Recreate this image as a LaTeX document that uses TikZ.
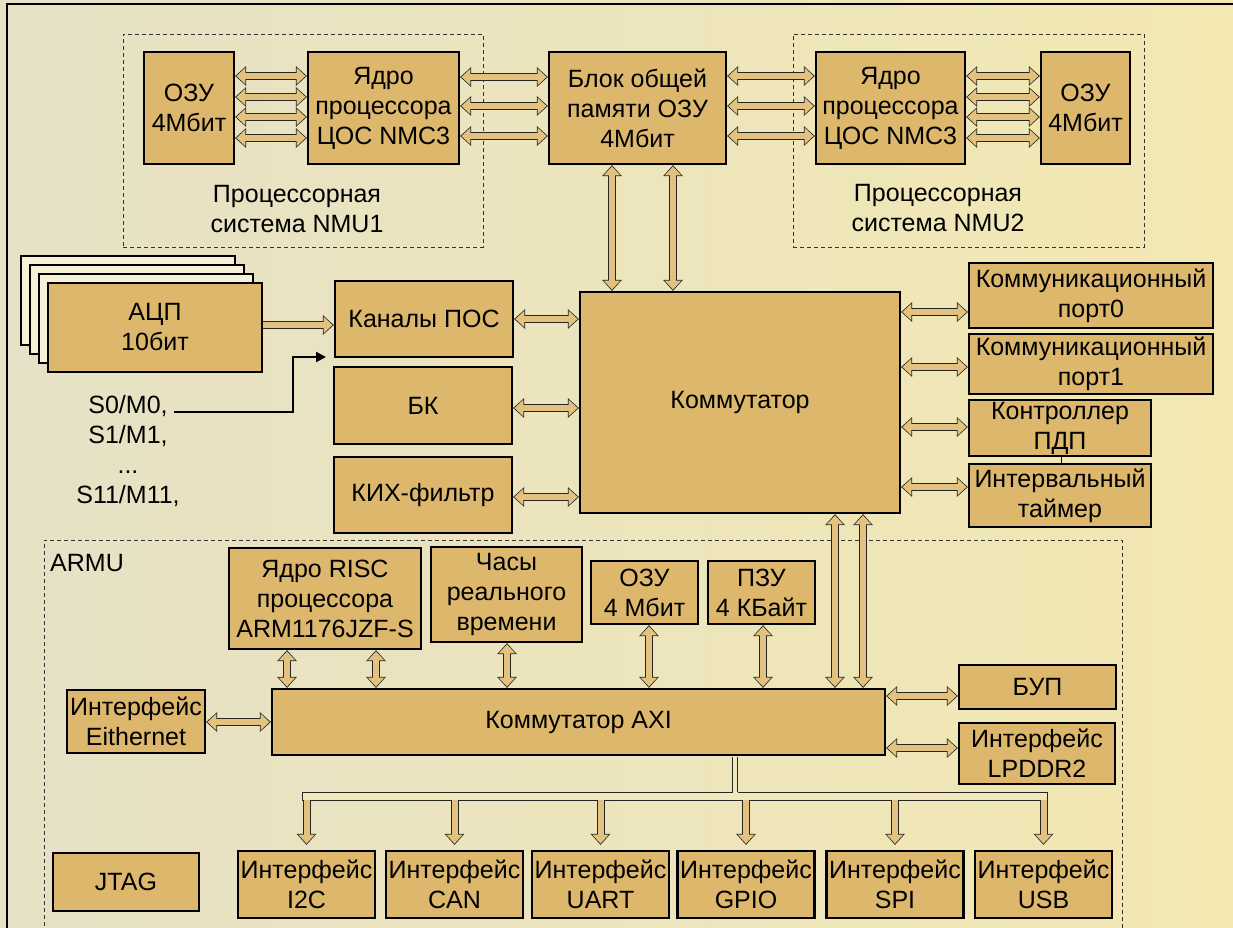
\documentclass[tikz,border=0pt]{standalone}
\usepackage{fontspec}
\setmainfont{Liberation Sans}
\usetikzlibrary{arrows.meta,calc}
\definecolor{bgL}{HTML}{E6E1C6}
\definecolor{bgR}{HTML}{F3E8B2}
\definecolor{boxtan}{HTML}{DDB86C}
\definecolor{arrtan}{HTML}{E2C27E}
\definecolor{backbox}{HTML}{F5F0D6}
\definecolor{busbg}{HTML}{F1E8BC}
\newcommand\mainfs{\fontsize{25}{30}\selectfont}
% double-headed block arrow
\newcommand\dbl[2]{%
  \draw[bouter,{Triangle[length=11pt,width=19pt]}-{Triangle[length=11pt,width=19pt]}] #1 -- #2;
  \draw[binner,shorten <=1.3pt,shorten >=1.3pt,{Triangle[length=9pt,width=16pt]}-{Triangle[length=9pt,width=16pt]}] #1 -- #2;}
% single-headed block arrow: #1 outer shorten, #2 inner shorten, #3 start, #4 end
\newcommand\sgl[4]{%
  \draw[bouter,shorten >=#1,-{Triangle[length=11pt,width=19pt]}] #3 -- #4;
  \draw[binner,shorten >=#2,-{Triangle[length=9pt,width=16pt]}] #3 -- #4;}
\begin{document}
\begin{tikzpicture}[x=1pt,y=-1pt,
  box/.style={draw=black,line width=2.2pt,fill=boxtan,inner sep=1pt,align=center,font=\mainfs},
  backrect/.style={draw=black,line width=2.2pt,fill=backbox},
  dbox/.style={draw=black!80,line width=0.9pt,dash pattern=on 4pt off 3pt},
  lbl/.style={inner sep=0pt,align=center,font=\mainfs},
  bouter/.style={draw=black!85,line width=8pt},
  binner/.style={draw=arrtan,line width=6pt},
  sigline/.style={draw=black,line width=2pt,-{Triangle[length=10pt,width=10pt]}},
  busline/.style={draw=black!85,line width=1pt,fill=busbg}]
\useasboundingbox (0,0) rectangle (1233,927);
\shade[left color=bgL,right color=bgR] (0,0) rectangle (1233,927);
\draw[line width=2pt] (7,940) -- (7,4) -- (1240,4);

% ---------- processor systems ----------
\node[dbox,minimum width=360pt,minimum height=213pt] (nmu1) at (303,140.5) {};
\node[dbox,minimum width=351pt,minimum height=213pt] (nmu2) at (968.5,140.5) {};
\node[box,minimum width=90pt,minimum height=112pt] (ozu1) at (189,108) {ОЗУ\\4Мбит};
\node[box,minimum width=151pt,minimum height=112pt] (core1) at (383.5,108) {Ядро\\процессора\\ЦОС NMC3};
\node[box,minimum width=177pt,minimum height=112pt] (shm) at (637.5,108) {Блок общей\\памяти ОЗУ\\4Мбит};
\node[box,minimum width=149pt,minimum height=112pt] (core2) at (890.5,108) {Ядро\\процессора\\ЦОС NMC3};
\node[box,minimum width=89pt,minimum height=112pt] (ozu2) at (1085.5,108) {ОЗУ\\4Мбит};
\node[lbl] (nmu1lbl) at (297,209) {Процессорная\\система NMU1};
\node[lbl] (nmu2lbl) at (938,208) {Процессорная\\система NMU2};

% ---------- ADC, channels ----------
\node[backrect,minimum width=214pt,minimum height=89pt] (adc3) at (128,300.5) {};
\node[backrect,minimum width=214pt,minimum height=89pt] (adc2) at (137,309.5) {};
\node[backrect,minimum width=214pt,minimum height=89pt] (adc1) at (146,318.5) {};
\node[box,minimum width=214pt,minimum height=89pt] (adc) at (155,327.5) {АЦП\\10бит};
\node[box,minimum width=178pt,minimum height=76pt] (pos) at (424,319) {Каналы ПОС};
\node[box,minimum width=178pt,minimum height=77pt] (bk) at (423,405.5) {БК};
\node[box,minimum width=178pt,minimum height=76pt] (fir) at (423,495) {КИХ-фильтр};
\node[box,minimum width=320pt,minimum height=221pt] (comm) at (740,402.5) {Коммутатор};
\node[box,minimum width=244pt,minimum height=65pt] (port0) at (1091,295.5) {Коммуникационный\\порт0};
\node[box,minimum width=244pt,minimum height=60pt] (port1) at (1091,364) {Коммуникационный\\порт1};
\node[box,minimum width=182pt,minimum height=56pt] (dma) at (1060,428) {Контроллер\\ПДП};
\node[box,minimum width=182pt,minimum height=63pt] (timer) at (1060,495.5) {Интервальный\\таймер};
\node[lbl] (sig) at (128,451) {S0/M0,\\S1/M1,\\...\\S11/M11,};
\coordinate (sgstart) at (174,412);
\coordinate (sgend) at (326,357);

% ---------- ARMU ----------
\draw[dbox] (44,940) -- (44,540) -- (1122,540) -- (1122,940);
\node[lbl,anchor=west] (armulbl) at (50,563) {ARMU};
\node[box,minimum width=192pt,minimum height=101pt] (risc) at (325,598.5) {Ядро RISC\\процессора\\ARM1176JZF-S};
\node[box,minimum width=151pt,minimum height=95pt] (rtc) at (506.5,594.5) {Часы\\реального\\времени};
\node[box,minimum width=107pt,minimum height=63pt] (ram4) at (644.5,592.5) {ОЗУ\\4 Мбит};
\node[box,minimum width=107pt,minimum height=63pt] (rom4) at (761.5,592.5) {ПЗУ\\4 КБайт};
\node[box,minimum width=613pt,minimum height=66pt] (axi) at (578.5,722) {Коммутатор AXI};
\node[box,minimum width=138pt,minimum height=63pt] (eth) at (136,721.5) {Интерфейс\\Eithernet};
\node[box,minimum width=157pt,minimum height=44pt] (bup) at (1037.5,687) {БУП};
\node[box,minimum width=156pt,minimum height=61pt] (lpddr) at (1037,753.5) {Интерфейс\\LPDDR2};
\node[box,minimum width=146pt,minimum height=58pt] (jtag) at (126,882) {JTAG};
\node[box,minimum width=137pt,minimum height=67pt] (i2c) at (306.5,884.5) {Интерфейс\\I2C};
\node[box,minimum width=137pt,minimum height=67pt] (can) at (454.5,884.5) {Интерфейс\\CAN};
\node[box,minimum width=137pt,minimum height=67pt] (uart) at (600.5,884.5) {Интерфейс\\UART};
\node[box,minimum width=137pt,minimum height=67pt] (gpio) at (746,884.5) {Интерфейс\\GPIO};
\node[box,minimum width=137pt,minimum height=67pt] (spi) at (895,884.5) {Интерфейс\\SPI};
\node[box,minimum width=137pt,minimum height=67pt] (usb) at (1043.5,884.5) {Интерфейс\\USB};

% ---------- connectors ----------
\foreach \yy in {76,97,117,138}{\dbl{(ozu1.east |- 0,\yy)}{(core1.west |- 0,\yy)}}
\foreach \yy in {77,106,136}{\dbl{(core1.east |- 0,\yy)}{(shm.west |- 0,\yy)}}
\foreach \yy in {76,106,136}{\dbl{(shm.east |- 0,\yy)}{(core2.west |- 0,\yy)}}
\foreach \yy in {76,97,117,138}{\dbl{(core2.east |- 0,\yy)}{(ozu2.west |- 0,\yy)}}
\foreach \xx in {612,673}{\dbl{(shm.south -| \xx,0)}{(comm.north -| \xx,0)}}
\sgl{0pt}{1.3pt}{(adc.east |- 0,325)}{(pos.west |- 0,325)}
\dbl{(pos.east |- 0,319)}{(comm.west |- 0,319)}
\dbl{(bk.east |- 0,408)}{(comm.west |- 0,408)}
\dbl{(fir.east |- 0,497)}{(comm.west |- 0,497)}
\dbl{(comm.east |- 0,312)}{(port0.west |- 0,312)}
\dbl{(comm.east |- 0,367)}{(port1.west |- 0,367)}
\dbl{(comm.east |- 0,427)}{(dma.west |- 0,427)}
\dbl{(comm.east |- 0,487)}{(timer.west |- 0,487)}
\draw[line width=1pt] (dma.south -| 1061,0) -- (timer.north -| 1061,0);
\draw[sigline] (sgstart) -- (293,412) -- (293,357) -- (sgend);
\foreach \xx in {835,863}{\dbl{(comm.south -| \xx,0)}{(axi.north -| \xx,0)}}
\foreach \xx in {287,376}{\dbl{(risc.south -| \xx,0)}{(axi.north -| \xx,0)}}
\dbl{(rtc.south -| 507,0)}{(axi.north -| 507,0)}
\dbl{(ram4.south -| 649,0)}{(axi.north -| 649,0)}
\dbl{(rom4.south -| 763,0)}{(axi.north -| 763,0)}
\dbl{(eth.east |- 0,722)}{(axi.west |- 0,722)}
\dbl{(axi.east |- 0,696)}{(bup.west |- 0,696)}
\dbl{(axi.east |- 0,748)}{(lpddr.west |- 0,748)}

% ---------- peripheral bus ----------
\draw[busline] (302.5,792) rectangle (1047.5,800);
\coordinate (stemtop) at (axi.south -| 735,0);
\fill[busbg] ($(stemtop)+(-2.5,1)$) rectangle (737.5,792.6);
\draw[black!85,line width=1pt] ($(stemtop)+(-2.5,1)$) -- (732.5,792);
\draw[black!85,line width=1pt] ($(stemtop)+(2.5,1)$) -- (737.5,792);
\foreach \nn in {i2c,can,uart,gpio,spi,usb}{\sgl{5pt}{6.3pt}{(\nn.north |- 0,799.5)}{(\nn.north)}}
\end{tikzpicture}
\end{document}
